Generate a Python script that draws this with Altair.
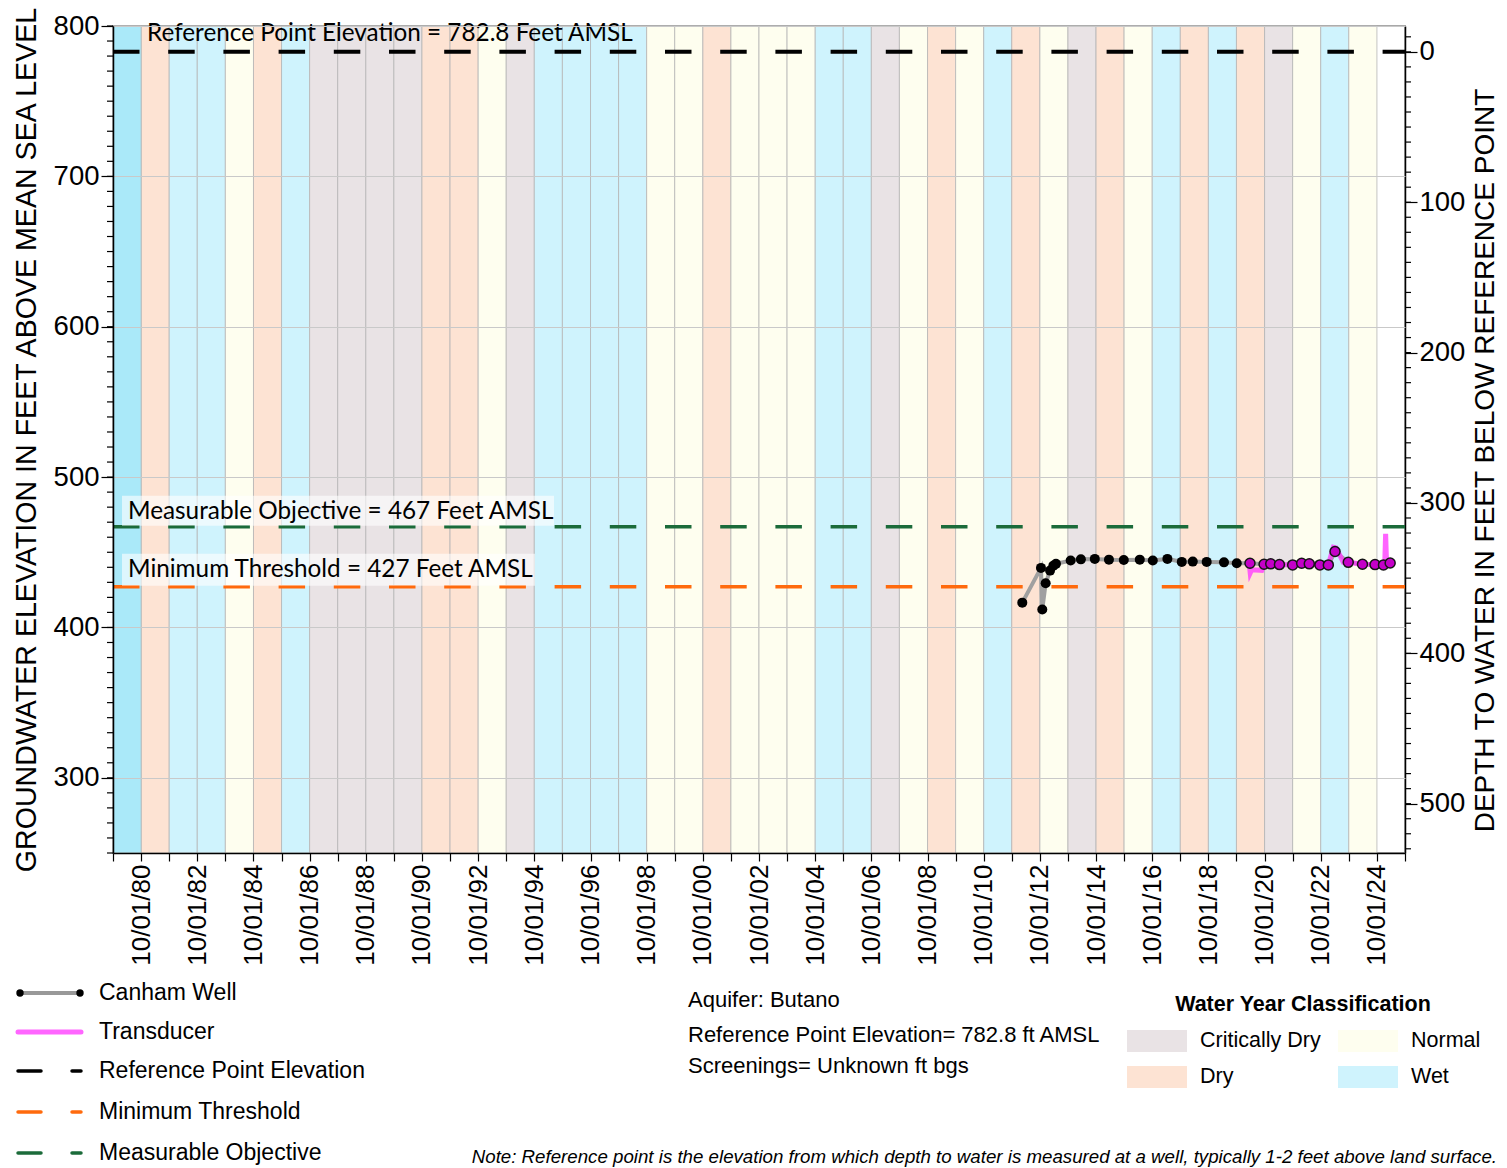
import altair as alt
import pandas as pd

# ---------------- data ----------------
water_years = list(range(1980, 2025))
wy_class = [
    "Wet", "Dry", "Wet", "Wet", "Normal", "Dry", "Wet",
    "Critically Dry", "Critically Dry", "Critically Dry", "Critically Dry",
    "Dry", "Dry", "Normal", "Critically Dry",
    "Wet", "Wet", "Wet", "Wet",
    "Normal", "Normal", "Dry", "Normal", "Normal", "Normal",
    "Wet", "Wet", "Critically Dry", "Normal", "Dry", "Normal", "Wet",
    "Dry", "Normal", "Critically Dry", "Dry", "Normal", "Wet", "Dry",
    "Wet", "Dry", "Critically Dry", "Normal", "Wet", "Normal",
]
class_names = ["Critically Dry", "Dry", "Normal", "Wet"]
class_colors = ["#e9e3e5", "#fde3d3", "#fefeef", "#cff3fd"]

well_dates = [
    "2012-02-15", "2012-10-15", "2012-11-01", "2012-12-15", "2013-02-10",
    "2013-03-25", "2013-04-28", "2013-11-05", "2014-03-18", "2014-09-15",
    "2015-03-18", "2015-09-27", "2016-04-22", "2016-10-08", "2017-04-16",
    "2017-10-20", "2018-03-12", "2018-09-09", "2019-04-22", "2019-10-05",
    "2020-03-25", "2020-09-24", "2020-12-20", "2021-04-12", "2021-10-01",
    "2022-01-26", "2022-05-05", "2022-09-20", "2023-01-08", "2023-04-05",
    "2023-09-24", "2024-03-27", "2024-09-06", "2024-12-25", "2025-03-22",
]
well_elev = [
    416.5, 439.6, 411.9, 429.4, 437.8,
    441.1, 442.3, 444.5, 445.3, 445.6,
    445.1, 444.9, 445.1, 444.5, 445.6,
    443.6, 443.8, 443.6, 443.3, 442.7,
    442.7, 442.0, 442.3, 441.8, 441.6,
    442.7, 442.3, 441.6, 441.6, 450.5,
    443.3, 442.0, 441.8, 441.6, 442.9,
]

trans_dates = [
    "2020-02-10", "2020-03-15", "2020-03-28", "2020-04-15", "2020-08-25",
    "2020-09-24", "2020-12-20", "2021-04-12", "2021-10-01", "2022-01-26",
    "2022-05-05", "2022-09-20", "2023-01-08", "2023-03-15", "2023-04-20",
    "2023-07-22", "2023-09-24", "2024-03-27", "2024-09-06", "2024-12-25",
    "2025-01-10", "2025-01-22", "2025-02-03", "2025-04-08",
]
trans_elev = [
    442.9, 442.7, 436.3, 438.3, 438.0,
    442.0, 442.3, 441.8, 441.6, 442.7,
    442.3, 441.6, 441.6, 453.3, 452.9,
    443.3, 443.3, 442.0, 441.8, 441.6,
    442.0, 462.2, 442.7, 442.9,
]

ref_elev = 782.8
mo_elev = 467
mt_elev = 427

line_names = ["Reference Point Elevation", "Measurable Objective", "Minimum Threshold"]
line_values = [ref_elev, mo_elev, mt_elev]
line_colors = ["#000000", "#1b6b3a", "#ff6a0d"]
line_labels = [
    "Reference Point Elevation = 782.8 Feet AMSL",
    "Measurable Objective = 467 Feet AMSL",
    "Minimum Threshold = 427 Feet AMSL",
]

legend_labels = ["Canham Well", "Transducer", "Reference Point Elevation",
                 "Minimum Threshold", "Measurable Objective"]
info_lines = ["Aquifer: Butano", "Reference Point Elevation= 782.8 ft AMSL",
              "Screenings= Unknown ft bgs"]
note_text = ("Note: Reference point is the elevation from which depth to water is "
             "measured at a well, typically 1-2 feet above land surface.")

y_min, y_max = 250, 800
x_start, x_end = "1979-10-01", "2025-10-01"

# ---------------- layout ----------------
W, H = 1292, 827
PL, PT = 113, 26
SANS = "Liberation Sans, Arial, sans-serif"
LBL = "Lato, Carlito, Open Sans, sans-serif"
DASH = [26.5, 28.7]


def ts(s):
    return int(pd.Timestamp(s, tz="UTC").value // 10**6)


xscale = alt.Scale(type="utc", domain=[ts(x_start), ts(x_end)])
yscale = alt.Scale(domain=[y_min, y_max], nice=False, zero=False)
dscale = alt.Scale(domain=[ref_elev - y_max, ref_elev - y_min], reverse=True,
                   nice=False, zero=False)

bands = pd.DataFrame({
    "start": [ts(f"{y-1}-10-01") for y in water_years],
    "end": [ts(f"{y}-10-01") for y in water_years],
    "cls": wy_class,
})
first_band = bands.iloc[[0]]

well = pd.DataFrame({"t": [ts(d) for d in well_dates], "v": well_elev})
t0 = ts(trans_dates[0])
well["src"] = ["t" if t >= t0 else "w" for t in well["t"]]
trans = pd.DataFrame({"t": [ts(d) for d in trans_dates], "v": trans_elev})
hl = pd.DataFrame({"name": line_names, "v": line_values, "c": line_colors,
                   "label": line_labels})

year_ticks = [ts(f"{y}-10-01") for y in range(1979, 2026)]

x_axis = alt.Axis(
    values=year_ticks, labelAngle=270, labelFontSize=26, labelFont=SANS,
    labelExpr="utcyear(datum.value) % 2 == 0 ? utcFormat(datum.value, '%m/%d/%y') : ''",
    labelOverlap=False, labelFlush=False, tickSize=8, tickColor="black",
    tickWidth=1.2, domainColor="black", domainWidth=1.5, grid=False, title=None,
    labelPadding=3, labelColor="black", orient="bottom", zindex=1,
)

X = lambda f: alt.X(f, scale=xscale, axis=x_axis)
Y = lambda f: alt.Y(f, scale=yscale, axis=None)

band_layer = alt.Chart(bands).mark_rect(
    stroke="#b5b5b5", strokeWidth=1, strokeOpacity=0.8
).encode(
    x=X("start:T"), x2="end:T",
    y=alt.value(0), y2=alt.value(H),
    fill=alt.Fill("cls:N", scale=alt.Scale(domain=class_names, range=class_colors),
                  legend=None),
)
first_layer = alt.Chart(first_band).mark_rect(
    fill="#aae9f9", stroke="#b5b5b5", strokeWidth=1, strokeOpacity=0.8
).encode(x=X("start:T"), x2="end:T", y=alt.value(0), y2=alt.value(H))

# left axis (major via axis, minor via rules)
left_minor = pd.DataFrame({"v": list(range(y_min, y_max + 1, 10))})
left_axis_layer = alt.Chart(left_minor).mark_rule(color="black", strokeWidth=1.2).encode(
    y=alt.Y("v:Q", scale=yscale, axis=alt.Axis(
        orient="left", values=list(range(300, 801, 100)), labelFontSize=27.5,
        labelFont=SANS, labelColor="black", tickSize=12, tickColor="black",
        tickWidth=1.2, domainColor="black", domainWidth=1.5, labelPadding=2,
        grid=True, gridColor="#c9c9c9", gridWidth=1.2,
        title="GROUNDWATER ELEVATION IN FEET ABOVE MEAN SEA LEVEL",
        titleFont=SANS, titleFontSize=28.6, titleFontWeight="normal",
        titleColor="black", titlePadding=12, zindex=1,
    )),
    x=alt.value(-6), x2=alt.value(0),
)

# right depth axis
right_minor = pd.DataFrame({"d": list(range(-10, 531, 10))})
right_layer = alt.Chart(right_minor).mark_rule(color="black", strokeWidth=1.2).encode(
    y=alt.Y("d:Q", scale=dscale, axis=alt.Axis(
        orient="right", values=list(range(0, 501, 100)), labelFontSize=27.5,
        labelFont=SANS, labelColor="black", tickSize=12, tickColor="black",
        tickWidth=1.2, domainColor="black", domainWidth=1.5, labelPadding=2,
        grid=False, title="DEPTH TO WATER IN FEET BELOW REFERENCE POINT",
        titleFont=SANS, titleFontSize=28, titleFontWeight="normal",
        titleColor="black", titleAngle=270, titleBaseline="top", titlePadding=7,
        titleY=434,
    )),
    x=alt.value(W), x2=alt.value(W + 6),
)


def hline(i, width):
    return alt.Chart(hl.iloc[[i]]).mark_rule(
        color=line_colors[i], strokeWidth=width, strokeDash=DASH, strokeCap="butt"
    ).encode(y=Y("v:Q"), x=alt.value(0), x2=alt.value(W))


ref_line = hline(0, 4)
mo_line = hline(1, 3.5)
mt_line = hline(2, 3.5)


def label_box(i, x2, top, bottom):
    return alt.Chart(hl.iloc[[i]]).mark_rect(
        fill="white", opacity=0.6, yOffset=top, y2Offset=bottom
    ).encode(y=Y("v:Q"), y2="v:Q", x=alt.value(9), x2=alt.value(x2))


def label_text(i, x, dy):
    return alt.Chart(hl.iloc[[i]]).mark_text(
        align="left", baseline="middle", dy=dy, fontSize=24.3, font=LBL, color="black"
    ).encode(y=Y("v:Q"), x=alt.value(x), text="label:N")


mo_box = label_box(1, 441, -31, -1)
mt_box = label_box(2, 422, -33, -1)
ref_txt = label_text(0, 34, -18)
mo_txt = label_text(1, 15, -15)
mt_txt = label_text(2, 15, -17)

well_line = alt.Chart(well).mark_line(color="#a0a0a0", strokeWidth=4).encode(
    x=X("t:T"), y=Y("v:Q"))
well_pts_early = alt.Chart(well[well["src"] == "w"]).mark_circle(
    color="black", size=100, opacity=1).encode(x=X("t:T"), y=Y("v:Q"))
trans_line = alt.Chart(trans).mark_line(color="#ff3cff", strokeWidth=5, opacity=0.8).encode(
    x=X("t:T"), y=Y("v:Q"))
well_pts_late = alt.Chart(well[well["src"] == "t"]).mark_point(
    filled=True, fill="#c400c8", stroke="#151515", strokeWidth=1.5, size=100,
    opacity=1).encode(x=X("t:T"), y=Y("v:Q"))

# ---------------- custom legends (pixel layout) ----------------
one = alt.Data(values=[{}])


def txt(label, x, y, size=22, align="left", weight="normal", style="normal", font=SANS):
    return alt.Chart(one).mark_text(
        text=label, align=align, baseline="middle", fontSize=size, font=font,
        fontWeight=weight, fontStyle=style, color="black"
    ).encode(x=alt.value(x), y=alt.value(y))


def seg(x1, x2, y, color, width, cap="round"):
    return alt.Chart(one).mark_rule(color=color, strokeWidth=width, strokeCap=cap).encode(
        x=alt.value(x1), x2=alt.value(x2), y=alt.value(y))


def dot(x, y):
    return alt.Chart(one).mark_circle(color="black", size=55, opacity=1).encode(
        x=alt.value(x), y=alt.value(y))


def swatch(x1, y1, color):
    return alt.Chart(one).mark_rect(fill=color).encode(
        x=alt.value(x1), x2=alt.value(x1 + 60), y=alt.value(y1), y2=alt.value(y1 + 22))


rows = [967, 1006, 1045, 1086, 1127]
lx1, lx2, tx = -93, -33, -14
legend = [
    seg(lx1, lx2, rows[0], "#999999", 4), dot(lx1, rows[0]), dot(lx2, rows[0]),
    seg(lx1 - 2, lx2 + 1, rows[1], "#ff66ff", 5),
    seg(-95, -72, rows[2], "black", 3.5), seg(-41, -32, rows[2], "black", 3.5),
    seg(-95, -72, rows[3], "#ff6a0d", 3.5), seg(-41, -32, rows[3], "#ff6a0d", 3.5),
    seg(-95, -72, rows[4], "#1b6b3a", 3.5), seg(-41, -32, rows[4], "#1b6b3a", 3.5),
]
legend += [txt(lab, tx, r, size=23) for lab, r in zip(legend_labels, rows)]
legend += [txt(s, 575, y) for s, y in zip(info_lines, [974, 1009, 1040])]
legend += [txt("Water Year Classification", 1190, 979, size=21.5, align="center",
               weight="bold")]
sw_pos = {"Critically Dry": (1014, 1004), "Dry": (1014, 1040),
          "Normal": (1225, 1004), "Wet": (1225, 1040)}
for name, col in zip(class_names, class_colors):
    sx, sy = sw_pos[name]
    legend += [swatch(sx, sy, col), txt(name, sx + 73, sy + 11, size=21.5)]
legend += [txt(note_text, 1384, 1131, size=18.7, align="right", style="italic")]

chart = alt.layer(
    band_layer, first_layer, left_axis_layer, right_layer,
    ref_line, mo_line, mt_line, mo_box, mt_box, ref_txt, mo_txt, mt_txt,
    well_line, well_pts_early, trans_line, well_pts_late, *legend,
).resolve_scale(y="independent").properties(
    width=W, height=H,
    background="white",
    autosize=alt.AutoSizeParams(type="none"),
    padding={"left": PL, "top": PT, "right": 1507 - PL - W, "bottom": 1168 - PT - H},
).configure_view(stroke="#a8a8a8", strokeWidth=2)

chart.save("out.html", embed_options={"renderer": "svg", "actions": False})
